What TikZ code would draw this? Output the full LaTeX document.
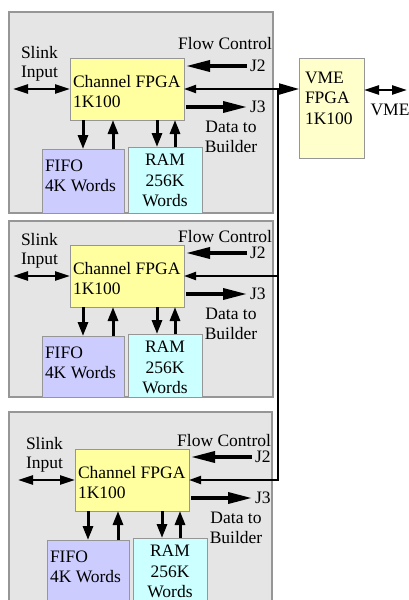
\documentclass[tikz,border=0pt]{standalone}
\usepackage{fontspec}
\setmainfont{Liberation Serif}
\newfontfamily\diagfont{Liberation Serif}
\usetikzlibrary{arrows.meta}
\definecolor{boardGray}{RGB}{229,229,229}
\definecolor{edgeGray}{RGB}{150,150,150}
\definecolor{fpgaYellow}{RGB}{255,255,160}
\definecolor{vmeYellow}{RGB}{255,255,204}
\definecolor{fifoBlue}{RGB}{204,204,255}
\definecolor{ramCyan}{RGB}{204,255,255}

\begin{document}
\begin{tikzpicture}[
    x=1pt, y=-1pt,
    every node/.style={font=\diagfont\fontsize{17.5}{20.5}\selectfont, inner sep=0pt, outer sep=0pt},
    board/.style={draw=edgeGray, line width=1.2pt, fill=boardGray},
    fpgabox/.style={draw=edgeGray, fill=fpgaYellow, minimum width=114pt, minimum height=62pt, anchor=north west},
    vmebox/.style={draw=edgeGray, fill=vmeYellow, minimum width=65pt, minimum height=100pt, anchor=north west},
    fifobox/.style={draw=edgeGray, fill=fifoBlue, minimum width=82pt, anchor=north west},
    rambox/.style={draw=edgeGray, fill=ramCyan, minimum width=74pt, anchor=north west},
    txt/.style={align=left, anchor=north west},
    bigarrow/.style={line width=3.5pt, -{Triangle[length=24pt, width=11pt]}},
    bidir/.style={line width=2.5pt, {Triangle[length=15pt, width=9pt]}-{Triangle[length=15pt, width=9pt]}},
    vertarrow/.style={line width=3pt, -{Triangle[length=14pt, width=10pt]}},
    busline/.style={line width=2pt}
]
    \useasboundingbox (0,0) rectangle (408,600);

    % Tres placas de canal
    \foreach \n/\dx/\dy/\topY/\botY/\leftX/\rightX/\fcY in {1/0/0/12/213/9/273/37, 2/0/187/34/210/9/273/43, 3/5/391/21/212/4/267/43}{
    \begin{scope}[shift={(\dx,\dy)}]
        % Placa
        \draw[board] (\leftX,\topY) rectangle (\rightX,\botY);

        % FIFO e RAM
        \node[fifobox, minimum height={(\botY-149)*1pt}] (fifo\n) at (42,149) {};
        \node[txt, font=\diagfont\fontsize{17.5}{20}\selectfont] (fifoTxt\n) at (45,160) {FIFO\\4K Words};
        \node[rambox, minimum height={(\botY-147)*1pt}] (ram\n) at (128,147) {};
        \node[align=center, anchor=north] (ramTxt\n) at (165,154) {RAM\\256K\\Words};

        % Channel FPGA
        \node[fpgabox] (fpga\n) at (70,58) {};
        \node[txt] (fpgaTxt\n) at (73,75) {Channel FPGA\\1K100};

        % Slink
        \node[txt, font=\diagfont\fontsize{17.5}{19}\selectfont] (slink\n) at (21,46) {Slink\\Input};
        \coordinate (slinkEnd\n) at (13,89);
        \draw[bidir] (slinkEnd\n) -- (fpga\n.west);

        % Flow Control / J2 / J3
        \node[anchor=north east] (flow\n) at (\rightX-1,\fcY) {Flow Control};
        \node[anchor=west] (jTwo\n) at (250,66) {J2};
        \draw[bigarrow, shorten <=3pt, shorten >=2pt] (jTwo\n.west) -- (jTwo\n.west -| fpga\n.east);
        \node[anchor=west] (jThree\n) at (250,107) {J3};
        \draw[bigarrow, shorten <=2pt, shorten >=3pt] (jThree\n.west -| fpga\n.east) -- (jThree\n.west);
        \node[align=center, anchor=north] (builder\n) at (231,121) {Data to\\Builder};

        % Setas FPGA <-> FIFO / RAM
        \draw[vertarrow] (fpga\n.south -| fifo\n.north) -- (fifo\n.north);
        \draw[vertarrow] ([xshift=30pt]fifo\n.north) -- ([xshift=30pt]fifo\n.north |- fpga\n.south);
        \draw[vertarrow] ([xshift=-8pt]ram\n.north |- fpga\n.south) -- ([xshift=-8pt]ram\n.north);
        \draw[vertarrow] ([xshift=10pt]ram\n.north) -- ([xshift=10pt]ram\n.north |- fpga\n.south);
    \end{scope}
    }

    % VME FPGA
    \node[vmebox] (vme) at (299,58) {};
    \node[txt] (vmeTxt) at (305,72) {VME\\FPGA\\1K100};
    \coordinate (vmeEnd) at (407,90);
    \draw[bidir] (vmeEnd -| vme.east) -- (vmeEnd);
    \node[anchor=north] (vmeLbl) at (390,104) {VME};

    % Barramento Flow Control
    \coordinate (busTop) at (278,89);
    \draw[busline, {Triangle[length=12pt, width=8pt]}-{Triangle[length=20pt, width=11pt]}] (fpga1.east) -- (fpga1.east -| vme.west);
    \draw[busline, -{Triangle[length=12pt, width=8pt]}] (busTop) |- (fpga3.east);
    \draw[busline, -{Triangle[length=12pt, width=8pt]}] (busTop |- fpga2.east) -- (fpga2.east);

\end{tikzpicture}
\end{document}
